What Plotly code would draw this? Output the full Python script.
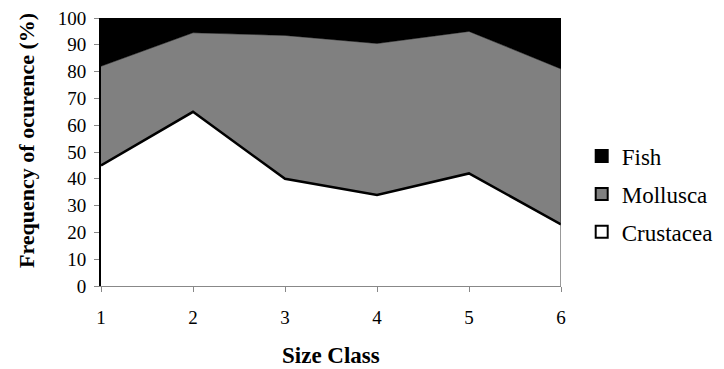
import plotly.graph_objects as go

size_class = [1, 2, 3, 4, 5, 6]
crustacea = [45, 65, 40, 34, 42, 23]
mollusca = [37, 29.5, 53.5, 56.5, 53, 58]
fish = [18, 5.5, 6.5, 9.5, 5, 19]

series_names = ["Fish", "Mollusca", "Crustacea"]
series_colors = ["black", "#808080", "white"]

FONT = "Liberation Serif, Times New Roman, serif"

fig = go.Figure()
fig.add_trace(go.Scatter(x=size_class, y=crustacea, name="Crustacea", stackgroup="s",
                         mode="lines", fillcolor="white", showlegend=False,
                         line=dict(color="black", width=2.5)))
fig.add_trace(go.Scatter(x=size_class, y=mollusca, name="Mollusca", stackgroup="s",
                         mode="lines", fillcolor="#808080", showlegend=False,
                         line=dict(color="black", width=0.5)))
fig.add_trace(go.Scatter(x=size_class, y=fish, name="Fish", stackgroup="s",
                         mode="lines", fillcolor="black", showlegend=False,
                         line=dict(color="black", width=0.5)))
# right edge of the stacked area
fig.add_trace(go.Scatter(x=[size_class[-1], size_class[-1]],
                         y=[0, crustacea[-1] + mollusca[-1]],
                         mode="lines", line=dict(color="#333333", width=1),
                         showlegend=False, hoverinfo="skip"))
# legend entries (square swatches)
for nm, col in zip(series_names, series_colors):
    fig.add_trace(go.Scatter(x=[None], y=[None], name=nm, legendgroup=nm, mode="markers",
                             marker=dict(symbol="square", size=12, color=col,
                                         line=dict(color="black", width=2))))

# page body has an 8px margin, so figure coords = page coords - 8
L, R, T, B = 93, 724 - 553, 10, 369 - 278
PW, PH = 724 - L - R, 369 - T - B

fig.update_layout(
    width=724, height=369,
    margin=dict(l=L, r=R, t=T, b=B, autoexpand=False),
    paper_bgcolor="white", plot_bgcolor="white",
    font=dict(family=FONT, size=19, color="black"),
    showlegend=True,
    legend=dict(x=1.045, y=0.565, xanchor="left", yanchor="top", traceorder="grouped",
                font=dict(size=23, family=FONT), itemwidth=30,
                tracegroupgap=5, bgcolor="rgba(0,0,0,0)"),
    xaxis=dict(range=[1, 6], tickvals=size_class, ticktext=[str(v) for v in size_class],
               showgrid=False, zeroline=False, showline=True, linecolor="#888888",
               linewidth=1, ticks="outside", ticklen=5, tickcolor="#888888",
               ticklabelstandoff=9, automargin=False, ticklabeloverflow="allow",
               tickfont=dict(size=19, family=FONT)),
    yaxis=dict(range=[0, 100], dtick=10, showgrid=False, zeroline=False,
               showline=True, linecolor="black", linewidth=2,
               ticks="outside", ticklen=5, tickcolor="#888888", automargin=False,
               ticklabelstandoff=4, ticklabeloverflow="allow",
               tickfont=dict(size=19, family=FONT)),
    annotations=[
        dict(text="<b>Size Class</b>", xref="paper", yref="paper",
             x=0.5, y=-(355 - 286) / PH, xanchor="center", yanchor="middle",
             showarrow=False, font=dict(size=23, family=FONT)),
        dict(text="<b>Frequency of ocurence (%)</b>", xref="paper", yref="paper",
             x=-(101 - 26) / PW, y=(286 - 141) / PH, xanchor="center", yanchor="middle",
             textangle=-90, showarrow=False, font=dict(size=22, family=FONT)),
    ],
)

fig.write_html("out.html")
